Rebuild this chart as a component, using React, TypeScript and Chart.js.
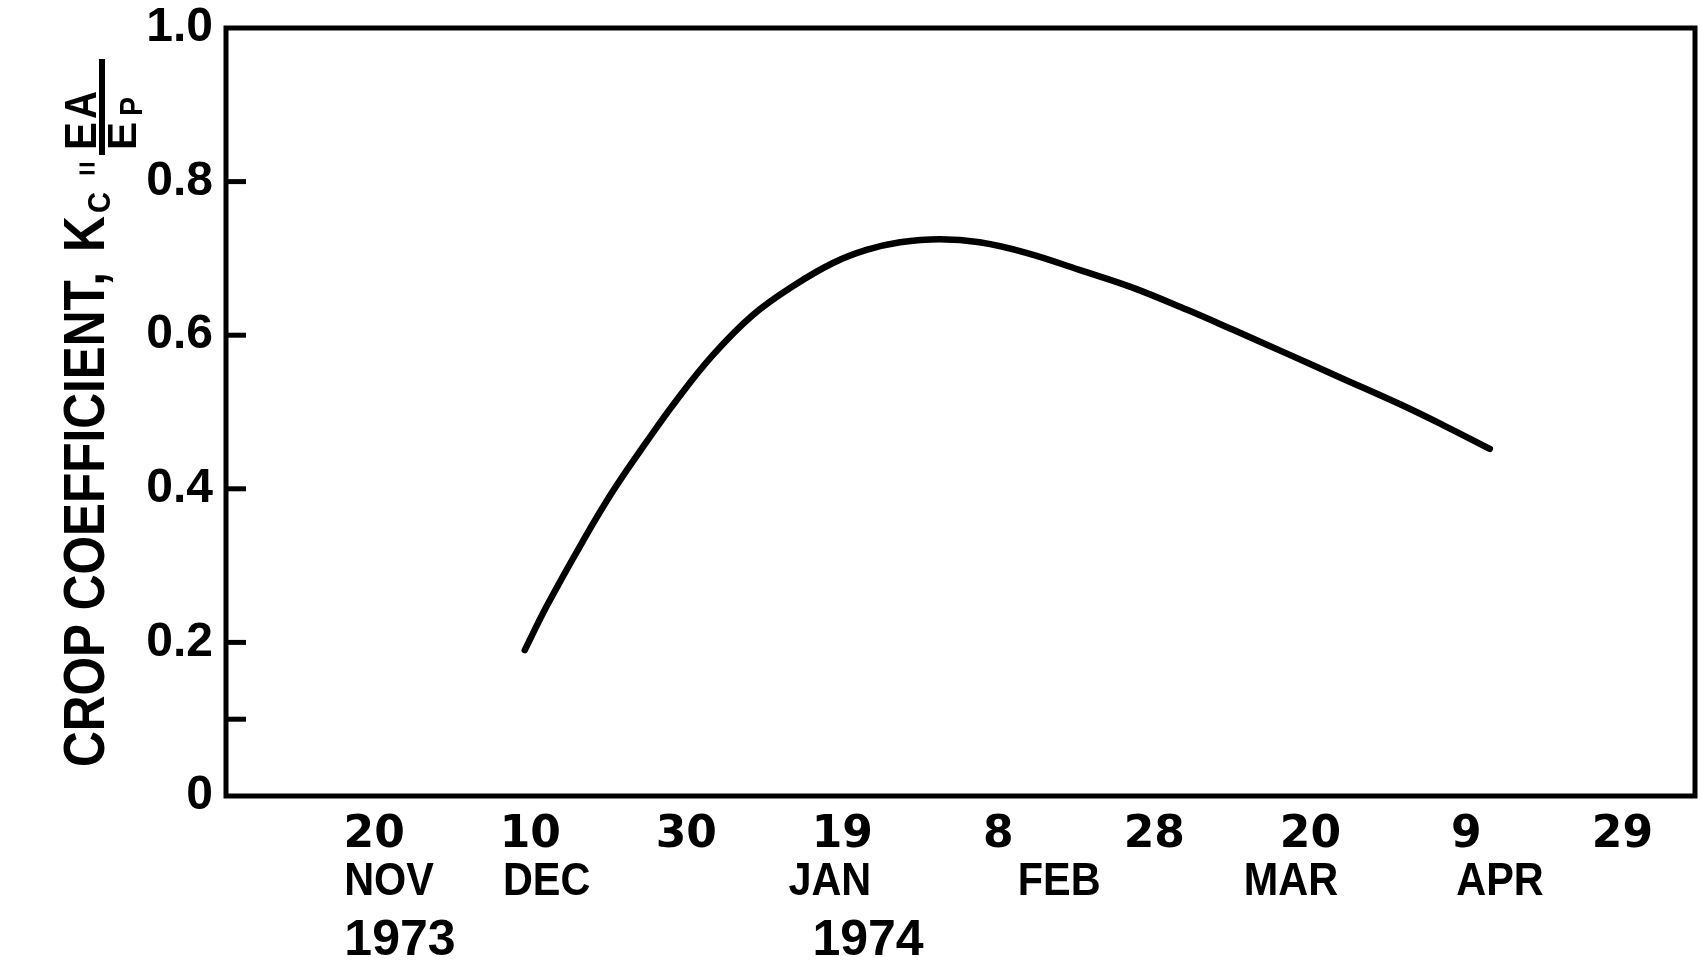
import React, { useEffect, useRef } from 'react';
import { Chart, registerables } from 'chart.js';

Chart.register(...registerables);

// X axis: days counted from 20 NOV 1973
const dayTicks = [0, 20, 40, 60, 80, 100, 120, 140, 160];
const dayTickLabels = ['20', '10', '30', '19', '8', '28', '20', '9', '29'];
const monthLabels = ['NOV', 'DEC', 'JAN', 'FEB', 'MAR', 'APR'];
const monthDays = [1.9, 22.1, 58.4, 87.8, 117.5, 144.3];
const yearLabels = ['1973', '1974'];
const yearDays = [3.3, 63.3];

// Y axis
const yTickValues = [0, 0.1, 0.2, 0.4, 0.6, 0.8, 1.0];
const yLabelledTicks = [0, 0.2, 0.4, 0.6, 0.8, 1.0];

// Crop coefficient curve
const kcDays = [19.3, 22.1, 26.7, 30.6, 34.9, 38.8, 43.4, 48.5, 53.7, 58.8, 63.1, 67.4, 72.5, 77.6, 83.7, 90.4, 97.2, 104.2, 110.1, 117.0, 123.8, 131.5, 137.0, 143.0];
const kcValues = [0.19, 0.247, 0.331, 0.397, 0.461, 0.516, 0.574, 0.626, 0.664, 0.694, 0.711, 0.721, 0.725, 0.721, 0.707, 0.685, 0.662, 0.633, 0.607, 0.576, 0.545, 0.51, 0.483, 0.452];

const LIB = '"Liberation Sans", Arial, sans-serif';
const DJV = '"DejaVu Sans", sans-serif';

function fitted(ctx: CanvasRenderingContext2D, text: string, x: number, y: number, font: string, width: number) {
  ctx.save();
  ctx.font = font;
  const w = ctx.measureText(text).width;
  ctx.translate(x, y);
  ctx.scale(width / w, 1);
  ctx.fillText(text, 0, 0);
  ctx.restore();
}

const decorPlugin = {
  id: 'decor',
  afterDraw(chart: any) {
    const ctx: CanvasRenderingContext2D = chart.ctx;
    const { left, right, top, bottom } = chart.chartArea;
    const xs = chart.scales.x;
    const ys = chart.scales.y;
    ctx.save();
    ctx.strokeStyle = '#000';
    ctx.fillStyle = '#000';
    // frame
    ctx.lineWidth = 5;
    ctx.lineJoin = 'miter';
    ctx.strokeRect(left, top, right - left, bottom - top);
    // inward y ticks
    ctx.lineWidth = 5;
    ctx.lineCap = 'butt';
    yTickValues.forEach((v) => {
      if (v <= 0 || v >= 1) return;
      const py = ys.getPixelForValue(v);
      ctx.beginPath();
      ctx.moveTo(left, py);
      ctx.lineTo(left + 20, py);
      ctx.stroke();
    });
    // x tick labels (day numbers)
    ctx.textAlign = 'center';
    ctx.textBaseline = 'alphabetic';
    ctx.font = `bold 44px ${DJV}`;
    xs.ticks.forEach((t: any, i: number) => {
      const idx = dayTicks.indexOf(t.value);
      if (idx < 0) return;
      ctx.fillText(dayTickLabels[idx], xs.getPixelForTick(i), bottom + 51);
    });
    // months
    monthLabels.forEach((m, i) => {
      ctx.save();
      ctx.font = `bold 46px ${LIB}`;
      const px = xs.getPixelForValue(monthDays[i]);
      ctx.translate(px, bottom + 99);
      ctx.scale(0.9, 1);
      ctx.fillText(m, 0, 0);
      ctx.restore();
    });
    // years
    ctx.font = `bold 50px ${LIB}`;
    yearLabels.forEach((yl, i) => {
      ctx.fillText(yl, xs.getPixelForValue(yearDays[i]), bottom + 159);
    });
    // y axis title
    ctx.save();
    ctx.translate(104, 767);
    ctx.rotate(-Math.PI / 2);
    ctx.textAlign = 'left';
    ctx.textBaseline = 'alphabetic';
    fitted(ctx, 'CROP COEFFICIENT,', 0, 0, `bold 58px ${LIB}`, 495);
    fitted(ctx, 'K', 515, 0, `bold 58px ${LIB}`, 36);
    fitted(ctx, 'C', 554, 6, `bold 32px ${LIB}`, 21);
    ctx.save();
    ctx.font = `bold 30px ${LIB}`;
    ctx.translate(596, -17);
    ctx.rotate(Math.PI / 2);
    ctx.textAlign = 'center';
    ctx.textBaseline = 'middle';
    ctx.fillText('=', 0, 0);
    ctx.restore();
    ctx.lineWidth = 6;
    ctx.beginPath();
    ctx.moveTo(612, -2);
    ctx.lineTo(708, -2);
    ctx.stroke();
    fitted(ctx, 'E', 617, -8, `bold 44px ${LIB}`, 28);
    fitted(ctx, 'A', 648, -8, `bold 44px ${LIB}`, 28);
    fitted(ctx, 'E', 617, 32, `bold 40px ${LIB}`, 28);
    fitted(ctx, 'P', 651, 38, `bold 32px ${LIB}`, 19);
    ctx.restore();
    ctx.restore();
  },
};

export default function App() {
  const ref = useRef<HTMLCanvasElement | null>(null);
  useEffect(() => {
    document.body.style.margin = '0';
    const canvas = ref.current;
    if (!canvas) return;
    const points = kcDays.map((d, i) => ({ x: d, y: kcValues[i] }));
    const chart = new Chart(canvas, {
      type: 'line',
      data: {
        datasets: [
          {
            data: points,
            borderColor: '#000',
            borderWidth: 6.5,
            borderCapStyle: 'round',
            borderJoinStyle: 'round',
            pointRadius: 0,
            fill: false,
            tension: 0.4,
          },
        ],
      },
      options: {
        responsive: false,
        animation: false,
        devicePixelRatio: 1,
        layout: { padding: { left: 8, right: 7, top: 28, bottom: 0 } },
        plugins: { legend: { display: false }, tooltip: { enabled: false } },
        scales: {
          x: {
            type: 'linear',
            min: -19,
            max: 169.3,
            grid: { display: false, drawTicks: false },
            border: { display: false },
            ticks: { display: false },
            afterBuildTicks: (scale: any) => {
              scale.ticks = dayTicks.map((v) => ({ value: v }));
            },
            afterFit: (scale: any) => {
              scale.height = 167;
              scale.paddingLeft = 0;
              scale.paddingRight = 0;
            },
          },
          y: {
            type: 'linear',
            min: 0,
            max: 1,
            grid: { display: false, drawTicks: false },
            border: { display: false },
            afterBuildTicks: (scale: any) => {
              scale.ticks = yTickValues.map((v) => ({ value: v }));
            },
            afterFit: (scale: any) => {
              scale.width = 218;
              scale.paddingTop = 0;
              scale.paddingBottom = 0;
            },
            ticks: {
              padding: 13,
              color: '#000',
              font: { family: LIB, size: 48, weight: 'bold', lineHeight: 1 },
              callback: (v: any) => {
                const n = Number(v);
                if (!yLabelledTicks.some((t) => Math.abs(t - n) < 1e-9)) return '';
                if (n === 0) return '0';
                return n.toFixed(1);
              },
            },
          },
        },
      },
      plugins: [decorPlugin],
    });
    return () => chart.destroy();
  }, []);
  return (
    <div style={{ position: 'absolute', left: 0, top: 0, width: 1702, height: 963, background: '#fff' }}>
      <canvas ref={ref} width={1702} height={963} style={{ display: 'block' }} />
    </div>
  );
}
